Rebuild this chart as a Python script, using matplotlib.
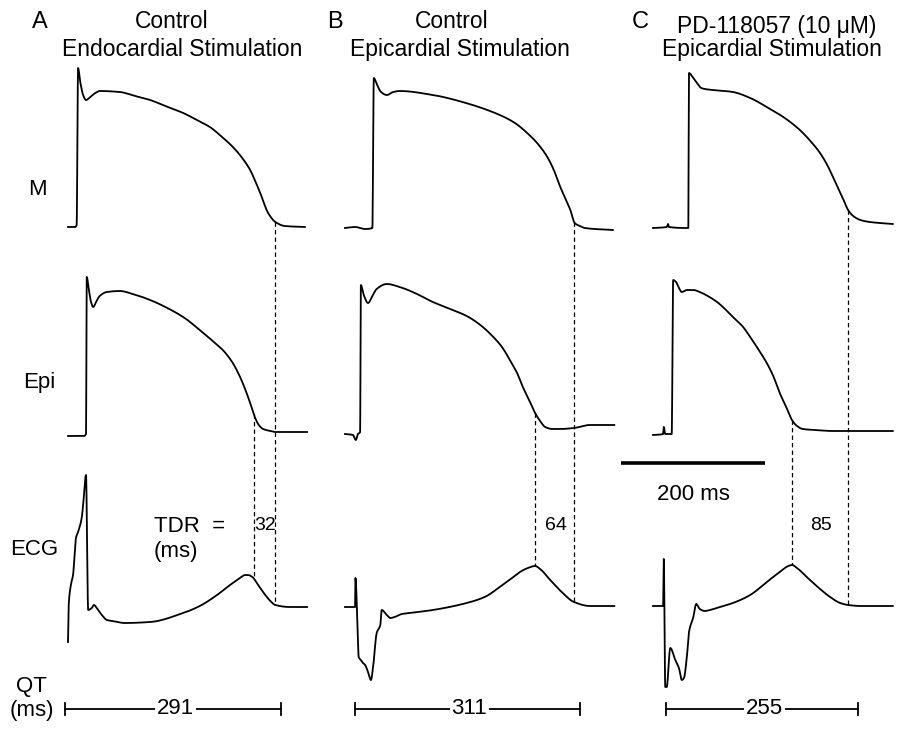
import matplotlib
matplotlib.use("Agg")
import matplotlib.pyplot as plt
import numpy as np
from matplotlib import font_manager

# ---- data ---------------------------------------------------------------
# time in ms from start of each sweep, amplitude in arbitrary units (1 unit = 1 px)
panels = ["A", "B", "C"]
panel_titles = [("Control", "Endocardial Stimulation"),
                ("Control", "Epicardial Stimulation"),
                ("PD-118057 (10 \u03bcM)", "Epicardial Stimulation")]
row_labels = ["M", "Epi", "ECG"]

# panel A
m_a_t = [0, 10, 12, 14, 17, 21, 25, 31, 38, 44, 72, 93, 114, 135, 160, 179, 197, 214, 229, 242, 253, 260, 267, 278, 288, 301, 329]
m_a_v = [1, 1, 3, 160, 146, 133, 128, 131, 135, 137, 136, 132, 128, 122, 115, 108, 101, 91, 81, 70, 58, 47, 35, 15, 6, 2, 1]
epi_a_t = [0, 22, 25, 26, 29, 32, 35, 39, 44, 54, 72, 90, 114, 138, 162, 183, 201, 215, 228, 239, 247, 253, 260, 265, 271, 281, 288, 332]
epi_a_v = [-2, -2, 0, 157, 144, 132, 127, 132, 138, 142, 143, 140, 134, 126, 116, 104, 93, 84, 72, 57, 43, 31, 16, 9, 5, 3, 2, 2]
ecg_a_t = [0, 1, 4, 7, 11, 14, 19, 21, 25, 28, 33, 36, 40, 47, 54, 62, 79, 114, 160, 183, 207, 225, 239, 246, 250, 256, 264, 274, 281, 288, 308, 332]
ecg_a_v = [-35, 2, 22, 32, 69, 75, 89, 102, 132, -3, -1, 2, -1, -8, -13, -14, -16, -15, -6, 1, 12, 22, 29, 32, 32, 30, 22, 12, 6, 2, 0, 0]

# panel B
m_b_t = [0, 14, 28, 38, 40, 44, 50, 58, 67, 76, 122, 168, 215, 236, 253, 268, 281, 290, 299, 307, 313, 319, 326, 333, 372]
m_b_v = [0, 1, -1, 0, 150, 144, 136, 133, 136, 137, 133, 125, 113, 105, 95, 84, 71, 58, 41, 28, 18, 5, 2, 0, -2]
epi_b_t = [0, 11, 15, 18, 21, 22, 26, 32, 38, 44, 58, 76, 97, 122, 146, 169, 188, 206, 218, 229, 239, 247, 257, 264, 271, 278, 288, 299, 318, 340, 374]
epi_b_v = [0, -1, -6, 0, 2, 149, 139, 131, 138, 145, 150, 147, 141, 132, 125, 118, 109, 97, 87, 74, 61, 47, 32, 21, 13, 7, 5, 5, 6, 9, 9]
ecg_b_t = [0, 14, 14.5, 17, 19, 22, 25, 28, 31, 36, 39, 44, 49, 51, 58, 63, 69, 79, 90, 122, 169, 194, 215, 232, 243, 254, 264, 271, 285, 301, 318, 340, 374]
ecg_b_v = [0, 0, 29, -10, -50, -53, -56, -58, -63, -73, -60, -26, -18, -3, -8, -11, -10, -7, -6, -3, 4, 10, 20, 29, 35, 39, 41, 38, 27, 15, 5, 1, 1]

# panel C
m_c_t = [0, 19, 21, 22, 49, 50, 54, 61, 67, 72, 111, 135, 158, 183, 204, 221, 232, 242, 250, 257, 263, 271, 278, 288, 301, 315, 333]
m_c_v = [0, 1, 4, 1, 0, 155, 152, 145, 140, 139, 136, 130, 121, 110, 98, 85, 75, 63, 51, 40, 31, 18, 12, 8, 6, 5, 4]
epi_c_t = [0, 14, 15, 17, 26, 28, 32, 36, 40, 47, 56, 65, 76, 89, 100, 111, 124, 135, 146, 158, 167, 176, 185, 193, 200, 208, 225, 250, 333]
epi_c_v = [-1, 0, 7, 0, 0, 154, 152, 146, 142, 144, 144, 142, 138, 132, 125, 117, 108, 97, 85, 71, 58, 41, 27, 14, 8, 5, 4, 3, 3]
ecg_c_t = [0, 14, 15, 17, 19, 24, 31, 36, 40, 43, 47, 50, 56, 60, 65, 72, 79, 93, 111, 135, 158, 176, 188, 193, 200, 215, 232, 246, 260, 271, 288, 333]
ecg_c_v = [1, 1, 48, -80, -80, -41, -53, -61, -73, -71, -50, -25, -10, 3, -2, -4, -3, 0, 4, 12, 25, 35, 41, 42, 39, 29, 18, 10, 4, 2, 1, 1]

traces = {
    "A": {"M": (m_a_t, m_a_v), "Epi": (epi_a_t, epi_a_v), "ECG": (ecg_a_t, ecg_a_v)},
    "B": {"M": (m_b_t, m_b_v), "Epi": (epi_b_t, epi_b_v), "ECG": (ecg_b_t, ecg_b_v)},
    "C": {"M": (m_c_t, m_c_v), "Epi": (epi_c_t, epi_c_v), "ECG": (ecg_c_t, ecg_c_v)},
}

# end of repolarization (ms) used for the dashed markers
epi_end_t = [258, 264, 193]
m_end_t = [288, 318, 271]
tdr_ms = [32, 64, 85]

# QT interval bars (ms) and their labels
qt_start_t = [-4, 14, 18]
qt_end_t = [296, 326, 285]
qt_ms = [291, 311, 255]

scale_bar_ms = 200

# ---- layout (pixels) ----------------------------------------------------
W, H = 908, 738
PX_PER_MS = 0.72
col_x0 = [68, 345, 653]
row_ref = {"M": 228, "Epi": 434, "ECG": 607}

plt.rcParams["font.family"] = ["Liberation Sans", "DejaVu Sans"]
names = {f.name for f in font_manager.fontManager.ttflist}
num_font = "Liberation Sans Narrow" if "Liberation Sans Narrow" in names else "Liberation Sans"


def pchip(x, y, xn):
    # monotone cubic through the read points, only used to draw smooth curves
    x = np.asarray(x, float)
    y = np.asarray(y, float)
    h = np.diff(x)
    d = np.diff(y) / h
    m = np.zeros_like(y)
    m[0], m[-1] = d[0], d[-1]
    for k in range(1, len(x) - 1):
        if d[k - 1] * d[k] > 0:
            w1 = 2 * h[k] + h[k - 1]
            w2 = h[k] + 2 * h[k - 1]
            m[k] = (w1 + w2) / (w1 / d[k - 1] + w2 / d[k])
    i = np.clip(np.searchsorted(x, xn, side="right") - 1, 0, len(x) - 2)
    s = (xn - x[i]) / h[i]
    h00 = 2 * s**3 - 3 * s**2 + 1
    h10 = s**3 - 2 * s**2 + s
    h01 = -2 * s**3 + 3 * s**2
    h11 = s**3 - s**2
    return h00 * y[i] + h10 * h[i] * m[i] + h01 * y[i + 1] + h11 * h[i] * m[i + 1]


def to_px(ci, row, t, v):
    x = col_x0[ci] + np.asarray(t, dtype=float) * PX_PER_MS
    y = row_ref[row] - np.asarray(v, dtype=float)
    return x, y


fig = plt.figure(figsize=(W / 100, H / 100), dpi=100)
ax = fig.add_axes([0, 0, 1, 1])
ax.set_xlim(0, W)
ax.set_ylim(H, 0)
ax.axis("off")

FS = 16
for ci, p in enumerate(panels):
    for row in row_labels:
        t, v = traces[p][row]
        tn = np.union1d(np.linspace(t[0], t[-1], 1500), t)
        x, y = to_px(ci, row, tn, pchip(t, v, tn))
        ax.plot(x, y, color="black", lw=1.3, solid_joinstyle="round")

    # dashed markers: Epi end -> ECG, M end -> ECG
    for top_row, tm in (("Epi", epi_end_t[ci]), ("M", m_end_t[ci])):
        tt, tv = traces[p][top_row]
        et, ev = traces[p]["ECG"]
        xa, ya = to_px(ci, top_row, [tm], pchip(tt, tv, np.array([tm])))
        xb, yb = to_px(ci, "ECG", [tm], pchip(et, ev, np.array([tm])))
        ax.plot([xa[0], xb[0]], [ya[0], yb[0]], color="black", lw=0.9,
                linestyle=(0, (3.5, 2.5)))

    # TDR value between the dashed lines
    xm, _ = to_px(ci, "ECG", [(epi_end_t[ci] + m_end_t[ci]) / 2], [0])
    ax.text(xm[0] + 1, 530, str(tdr_ms[ci]), ha="center", va="baseline",
            fontsize=14, family=[num_font, "DejaVu Sans"])

    # QT bar
    xq, _ = to_px(ci, "ECG", [qt_start_t[ci], qt_end_t[ci]], [0, 0])
    yq = 709
    ax.plot(xq, [yq, yq], color="black", lw=1.3)
    for xe in xq:
        ax.plot([xe, xe], [yq - 6, yq + 6], color="black", lw=1.3)
    ax.text(xq.mean() + 2, yq, str(qt_ms[ci]), ha="center", va="center",
            fontsize=FS, bbox=dict(facecolor="white", edgecolor="none", pad=1.5))

# panel letters and titles
letter_x = [32, 327, 632]
title1_x = [172, 452, 777]
title1_y = [28, 28, 33]
title2_x = [182, 460, 772]
for ci, p in enumerate(panels):
    ax.text(letter_x[ci], 28, p, ha="left", va="baseline", fontsize=17)
    ax.text(title1_x[ci], title1_y[ci], panel_titles[ci][0], ha="center", va="baseline", fontsize=16.5)
    ax.text(title2_x[ci], 56, panel_titles[ci][1], ha="center", va="baseline", fontsize=16.5)

# row labels
ax.text(37, 195, "M", ha="center", va="baseline", fontsize=FS)
ax.text(39, 388, "Epi", ha="center", va="baseline", fontsize=FS)
ax.text(34, 555, "ECG", ha="center", va="baseline", fontsize=FS)
ax.text(154, 532, "TDR  =", ha="left", va="baseline", fontsize=FS)
ax.text(154, 557, "(ms)", ha="left", va="baseline", fontsize=FS)
ax.text(31, 692, "QT", ha="center", va="baseline", fontsize=FS)
ax.text(32, 716, "(ms)", ha="center", va="baseline", fontsize=FS)

# 200 ms scale bar
sb_x0 = 621
ax.plot([sb_x0, sb_x0 + scale_bar_ms * PX_PER_MS], [463, 463], color="black", lw=2.6,
        solid_capstyle="butt")
ax.text(sb_x0 + scale_bar_ms * PX_PER_MS / 2, 500, f"{scale_bar_ms} ms",
        ha="center", va="baseline", fontsize=FS)

fig.savefig("out.png", dpi=100, facecolor="white")
